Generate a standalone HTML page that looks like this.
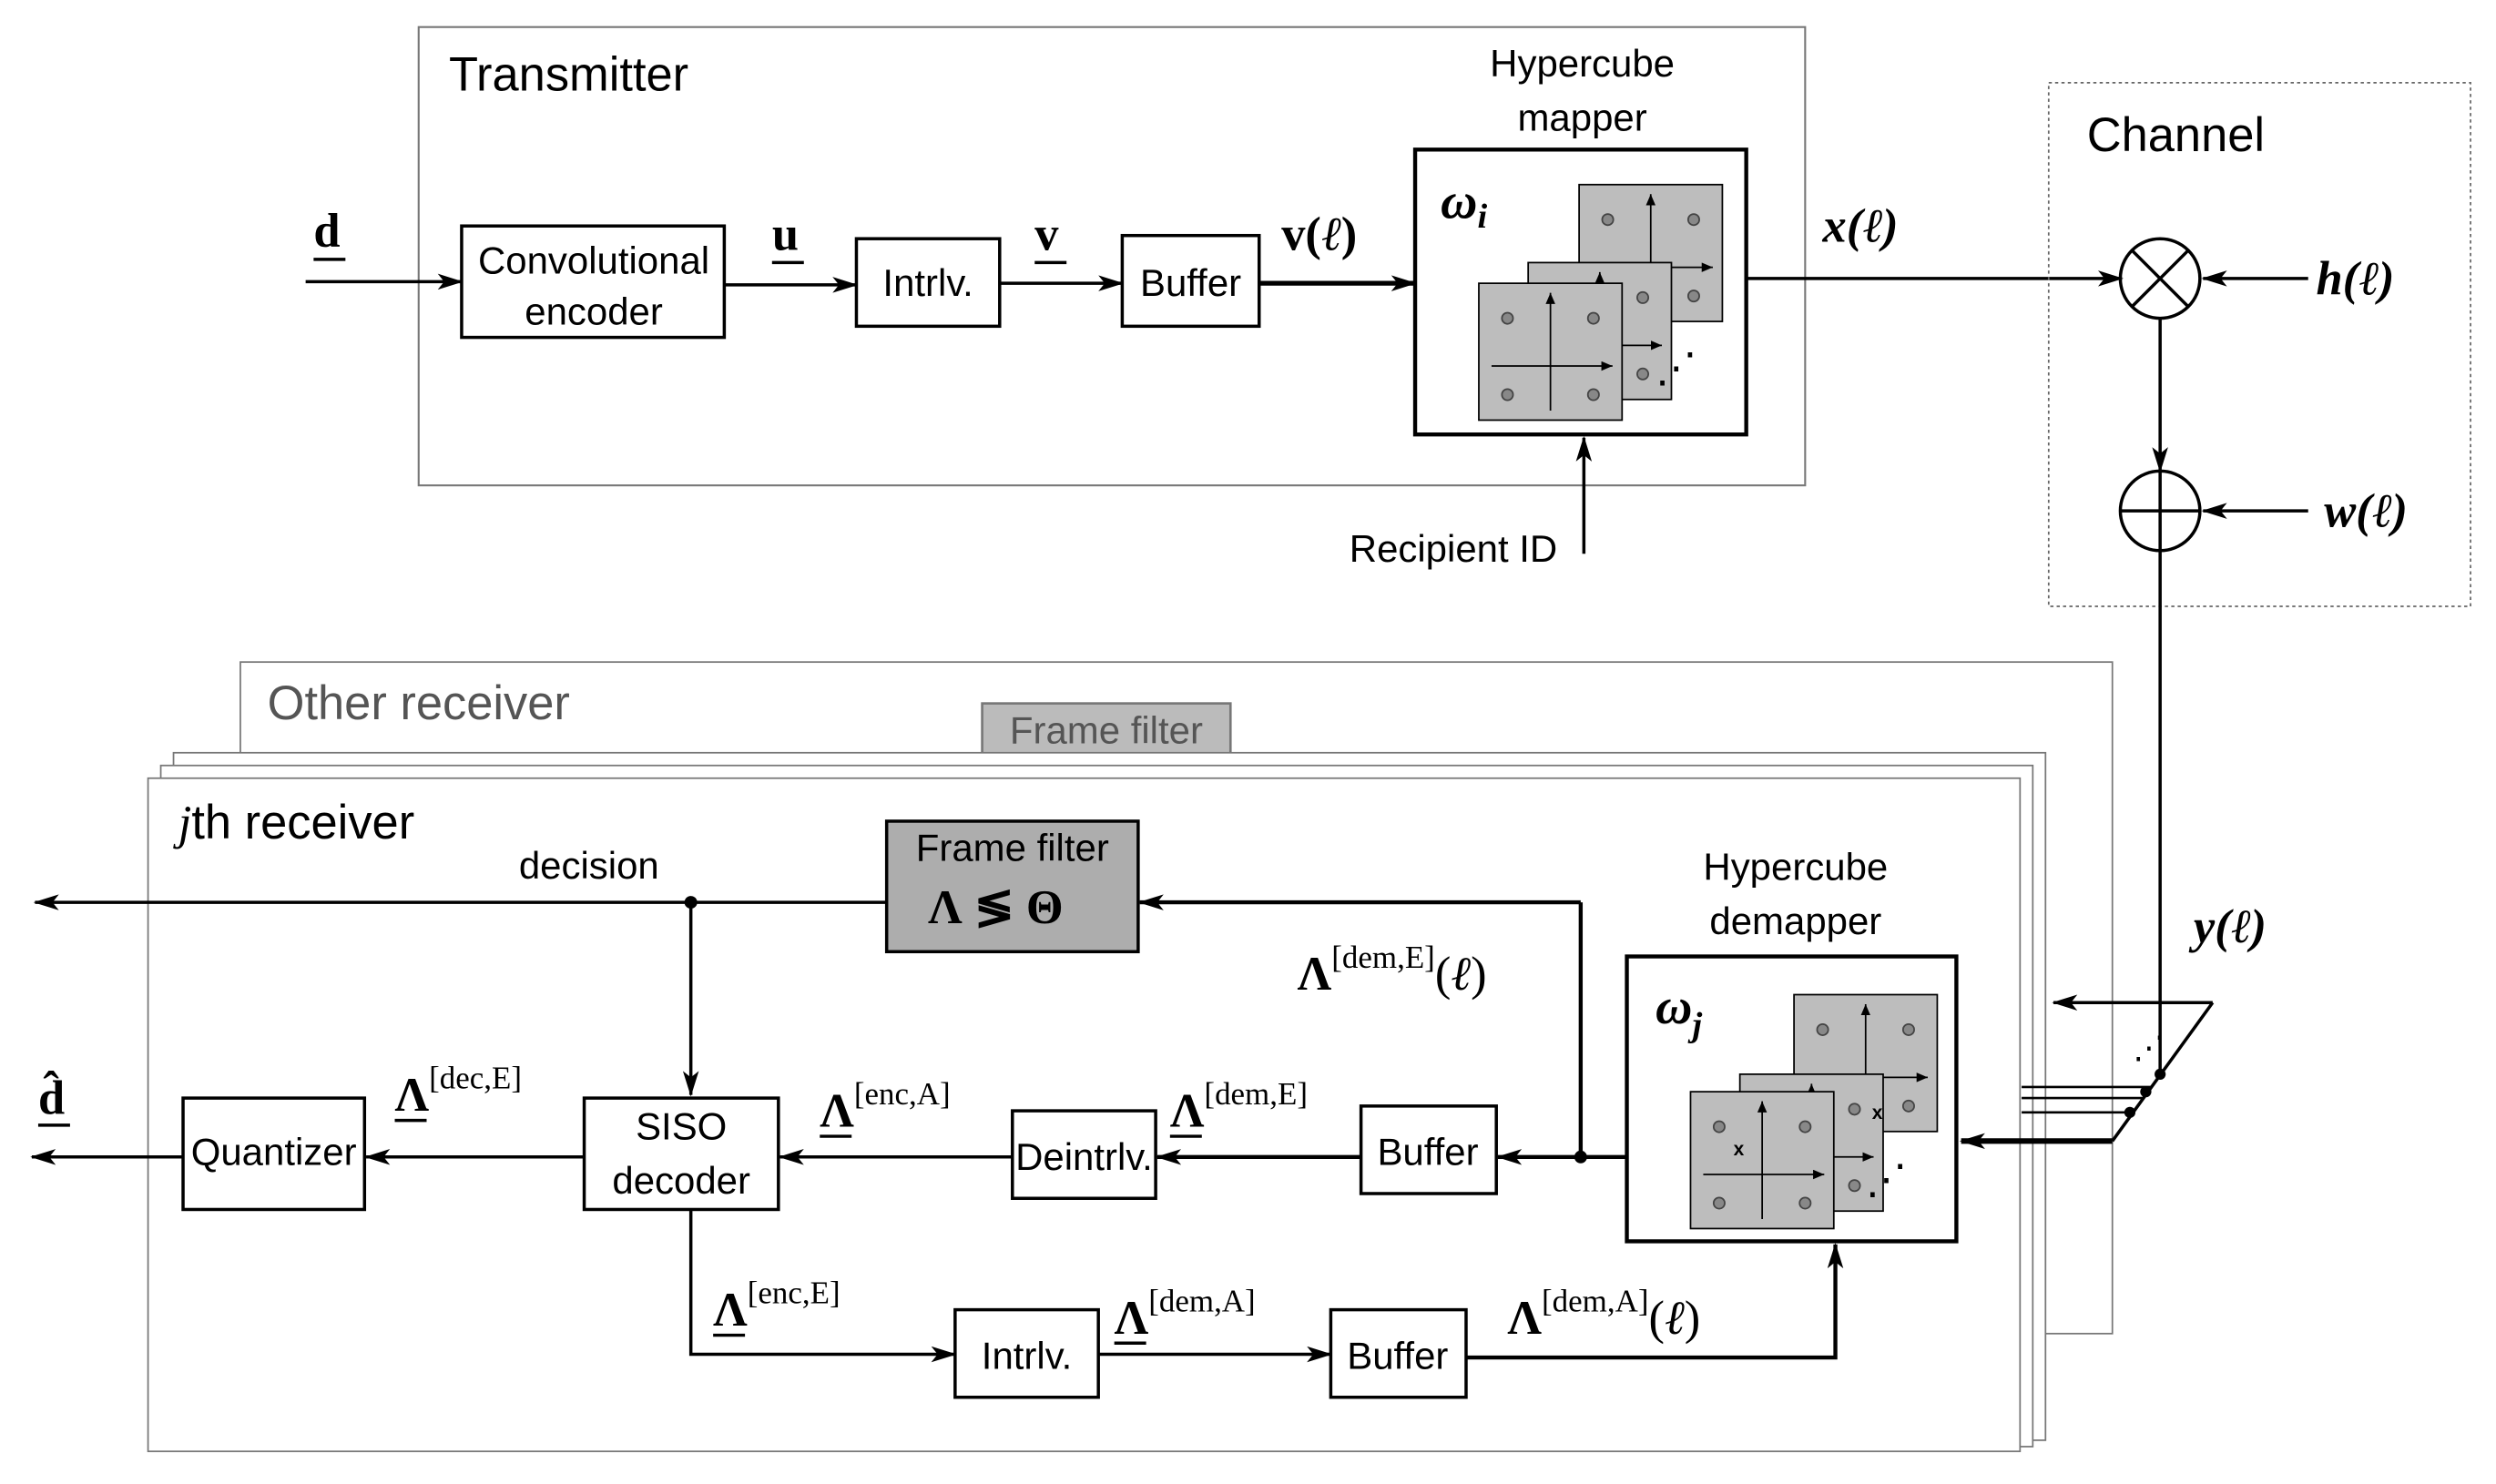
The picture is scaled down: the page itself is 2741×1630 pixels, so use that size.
<!DOCTYPE html>
<html><head><meta charset="utf-8"><style>
html,body{margin:0;padding:0;background:#fff;}
svg{display:block;}
text{font-family:"Liberation Sans",sans-serif;}
.s text,.s tspan{font-family:"Liberation Serif",serif;}
.s text{font-weight:bold;}
</style></head><body>
<svg width="2741" height="1630" viewBox="0 0 1568 932.5" preserveAspectRatio="none" xmlns="http://www.w3.org/2000/svg">
<defs>
<marker id="a" markerWidth="10" markerHeight="8" refX="9" refY="4" orient="auto" markerUnits="userSpaceOnUse" viewBox="0 0 10 8"><path d="M0,0 L10,4 L0,8 L3,4 z" fill="#000"/></marker>
<marker id="b" markerWidth="16" markerHeight="10" refX="15" refY="5" orient="auto" markerUnits="userSpaceOnUse" viewBox="0 0 16 10"><path d="M0,0 L16,5 L0,10 L4,5 z" fill="#000"/></marker>
<marker id="c" markerWidth="7" markerHeight="6" refX="7" refY="3" orient="auto" markerUnits="userSpaceOnUse"><path d="M0,0 L7,3 L0,6 z" fill="#000"/></marker>
<g id="cons">
<rect x="0" y="0" width="90" height="86" fill="#bdbdbd" stroke="#000" stroke-width="1"/>
<line x1="8" y1="52" x2="84" y2="52" stroke="#000" marker-end="url(#c)"/>
<line x1="45" y1="80" x2="45" y2="6" stroke="#000" marker-end="url(#c)"/>
<circle cx="18" cy="22" r="3.5" fill="#888" stroke="#444"/><circle cx="72" cy="22" r="3.5" fill="#888" stroke="#444"/>
<circle cx="18" cy="70" r="3.5" fill="#888" stroke="#444"/><circle cx="72" cy="70" r="3.5" fill="#888" stroke="#444"/>
</g>
</defs>
<g fill="none" stroke="#000" stroke-width="2">
<rect x="263" y="17" width="871" height="288" stroke="#777" stroke-width="1.2"/>
<line x1="192" y1="177" x2="290" y2="177" marker-end="url(#b)"/>
<rect x="290" y="142" width="165" height="70"/>
<line x1="455" y1="179" x2="538" y2="179" marker-end="url(#b)"/>
<rect x="538" y="150" width="90" height="55"/>
<line x1="628" y1="178" x2="705" y2="178" marker-end="url(#b)"/>
<rect x="705" y="148" width="86" height="57"/>
<line x1="791" y1="178" x2="889" y2="178" stroke-width="3" marker-end="url(#b)"/>
<rect x="889" y="94" width="208" height="179" stroke-width="2.5"/>
<line x1="995" y1="348" x2="995" y2="275" marker-end="url(#b)"/>
<line x1="1097" y1="175" x2="1333" y2="175" marker-end="url(#b)"/>
<rect x="1287" y="52" width="265" height="329" stroke="#666" stroke-width="1" stroke-dasharray="2,2"/>
<circle cx="1357" cy="175" r="25"/>
<line x1="1339" y1="157" x2="1375" y2="193"/><line x1="1375" y1="157" x2="1339" y2="193"/>
<line x1="1450" y1="175" x2="1384" y2="175" marker-end="url(#b)"/>
<line x1="1357" y1="200" x2="1357" y2="296" marker-end="url(#b)"/>
<circle cx="1357" cy="321" r="25"/>
<line x1="1332" y1="321" x2="1382" y2="321"/><line x1="1357" y1="296" x2="1357" y2="346"/>
<line x1="1450" y1="321" x2="1384" y2="321" marker-end="url(#b)"/>
<line x1="1357" y1="346" x2="1357" y2="675"/>
<rect x="151" y="416" width="1176" height="422" fill="#fff" stroke="#777" stroke-width="1"/>
<rect x="617" y="442" width="156" height="32" fill="#bbb" stroke="#777" stroke-width="1.5"/>
<rect x="109" y="473" width="1176" height="432" fill="#fff" stroke="#777" stroke-width="1"/>
<rect x="101" y="481" width="1176" height="428" fill="#fff" stroke="#777" stroke-width="1"/>
<rect x="93" y="489" width="1176" height="423" fill="#fff" stroke="#777" stroke-width="1"/>
<rect x="557" y="516" width="158" height="82" fill="#adadad"/>
<line x1="557" y1="567" x2="22" y2="567" marker-end="url(#b)"/>
<line x1="434" y1="567" x2="434" y2="688" marker-end="url(#b)"/>
<line x1="993" y1="727" x2="993" y2="567" stroke-width="2.5"/>
<line x1="993" y1="567" x2="716" y2="567" stroke-width="2.5" marker-end="url(#b)"/>
<rect x="1022" y="601" width="207" height="179" stroke-width="2.5"/>
<line x1="1022" y1="727" x2="941" y2="727" stroke-width="2.5" marker-end="url(#b)"/>
<rect x="855" y="695" width="85" height="55"/>
<line x1="855" y1="727" x2="727" y2="727" stroke-width="2.5" marker-end="url(#b)"/>
<rect x="636" y="698" width="90" height="55"/>
<line x1="636" y1="727" x2="490" y2="727" marker-end="url(#b)"/>
<rect x="367" y="690" width="122" height="70"/>
<line x1="367" y1="727" x2="230" y2="727" marker-end="url(#b)"/>
<rect x="115" y="690" width="114" height="70"/>
<line x1="115" y1="727" x2="20" y2="727" marker-end="url(#b)"/>
<polyline points="434,760 434,851 600,851" marker-end="url(#b)"/>
<rect x="600" y="823" width="90" height="55"/>
<line x1="690" y1="851" x2="836" y2="851" marker-end="url(#b)"/>
<rect x="836" y="823" width="85" height="55"/>
<polyline points="921,853 1153,853 1153,782" stroke-width="2.5" marker-end="url(#b)"/>
<line x1="1390" y1="630" x2="1290" y2="630" marker-end="url(#b)"/>
<line x1="1390" y1="630" x2="1327" y2="717"/>
<line x1="1327" y1="717" x2="1232" y2="717" stroke-width="3.5" marker-end="url(#b)"/>
<line x1="1270" y1="683" x2="1352" y2="683" stroke-width="1.5"/>
<line x1="1270" y1="690" x2="1347" y2="690" stroke-width="1.5"/>
<line x1="1270" y1="699" x2="1339" y2="699" stroke-width="1.5"/>
</g>
<circle cx="434" cy="567" r="4"/><circle cx="993" cy="727" r="4"/>
<circle cx="1357" cy="675" r="3.5"/><circle cx="1348" cy="686" r="3.5"/><circle cx="1338" cy="699" r="3.5"/>
<text x="1340" y="665" font-size="20">⋰</text>
<use href="#cons" x="992" y="116"/>
<use href="#cons" x="960" y="165"/>
<use href="#cons" x="929" y="178"/>
<text x="1040" y="240" font-size="26">⋰</text>
<use href="#cons" x="1127" y="625"/>
<use href="#cons" x="1093" y="675"/>
<use href="#cons" x="1062" y="686"/>
<text x="1172" y="750" font-size="26">⋰</text>
<text x="1176" y="703" font-size="12" font-weight="bold">x</text>
<text x="1089" y="726" font-size="12" font-weight="bold">x</text>
<g font-size="30"><text x="282" y="57">Transmitter</text><text x="1311" y="95">Channel</text>
<text x="168" y="452" fill="#555">Other receiver</text>
<text x="112" y="527"><tspan font-family="Liberation Serif" font-style="italic">j</tspan>th receiver</text></g>
<g font-size="24" text-anchor="middle">
<text x="373" y="172">Convolutional</text><text x="373" y="204">encoder</text>
<text x="583" y="186">Intrlv.</text><text x="748" y="186">Buffer</text>
<text x="994" y="48">Hypercube</text><text x="994" y="82">mapper</text>
<text x="913" y="353">Recipient ID</text>
<text x="695" y="467" fill="#555">Frame filter</text>
<text x="636" y="541">Frame filter</text>
<text x="370" y="552">decision</text>
<text x="1128" y="553">Hypercube</text><text x="1128" y="587">demapper</text>
<text x="897" y="732">Buffer</text><text x="681" y="735">Deintrlv.</text>
<text x="428" y="716">SISO</text><text x="428" y="750">decoder</text>
<text x="172" y="732">Quantizer</text>
<text x="645" y="860">Intrlv.</text><text x="878" y="860">Buffer</text>
</g>
<g class="s" font-size="30">
<text x="197" y="155">d</text><line x1="197" y1="163" x2="217" y2="163" stroke="#000" stroke-width="2"/>
<text x="485" y="157">u</text><line x1="485" y1="165" x2="505" y2="165" stroke="#000" stroke-width="2"/>
<text x="650" y="157">v</text><line x1="650" y1="165" x2="670" y2="165" stroke="#000" stroke-width="2"/>
<text x="805" y="157">v(<tspan font-style="italic" font-weight="normal">ℓ</tspan>)</text>
<text x="1145" y="152" font-style="italic">x(<tspan font-weight="normal">ℓ</tspan>)</text>
<text x="1455" y="185" font-style="italic">h(<tspan font-weight="normal">ℓ</tspan>)</text>
<text x="1460" y="331" font-style="italic">w(<tspan font-weight="normal">ℓ</tspan>)</text>
<text x="1378" y="592" font-style="italic">y(<tspan font-weight="normal">ℓ</tspan>)</text>
<text x="905" y="137" font-size="32" font-style="italic">ω<tspan font-size="22" dy="6">i</tspan></text>
<text x="1040" y="643" font-size="32" font-style="italic">ω<tspan font-size="22" dy="8">j</tspan></text>
<text x="583" y="580" font-size="30">Λ ≶ Θ</text>
<text x="24" y="700">d̂</text><line x1="24" y1="707" x2="44" y2="707" stroke="#000" stroke-width="2"/>
<text x="815" y="622">Λ<tspan font-size="20" font-weight="normal" dy="-14">[dem,E]</tspan><tspan dy="14" font-weight="normal">(<tspan font-style="italic">ℓ</tspan>)</tspan></text>
<text x="248" y="698">Λ<tspan font-size="20" font-weight="normal" dy="-14">[dec,E]</tspan></text>
<text x="515" y="708">Λ<tspan font-size="20" font-weight="normal" dy="-14">[enc,A]</tspan></text>
<text x="735" y="708">Λ<tspan font-size="20" font-weight="normal" dy="-14">[dem,E]</tspan></text>
<text x="448" y="833">Λ<tspan font-size="20" font-weight="normal" dy="-14">[enc,E]</tspan></text>
<text x="700" y="838">Λ<tspan font-size="20" font-weight="normal" dy="-14">[dem,A]</tspan></text>
<text x="947" y="838">Λ<tspan font-size="20" font-weight="normal" dy="-14">[dem,A]</tspan><tspan dy="14" font-weight="normal">(<tspan font-style="italic">ℓ</tspan>)</tspan></text>
</g>
<g stroke="#000" stroke-width="2">
<line x1="248" y1="704" x2="268" y2="704"/><line x1="515" y1="714" x2="535" y2="714"/>
<line x1="735" y1="714" x2="755" y2="714"/><line x1="448" y1="839" x2="468" y2="839"/>
<line x1="700" y1="844" x2="720" y2="844"/>
</g>
</svg>
</body></html>
